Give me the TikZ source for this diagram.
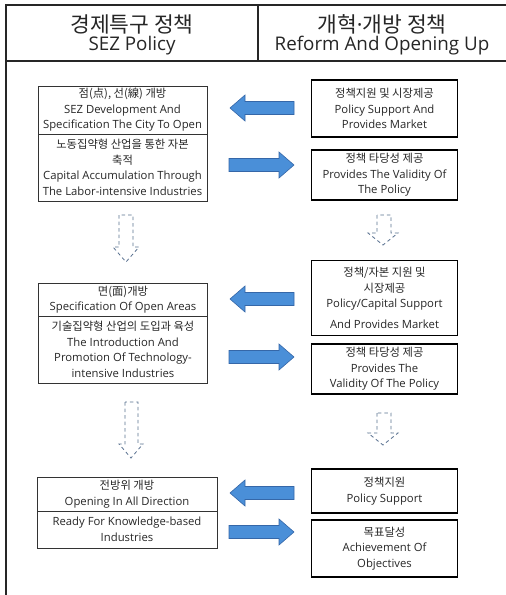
\documentclass[tikz,border=0pt]{standalone}
\usepackage{fontspec}
\setmainfont{Open Sans}
\newfontfamily\krfont{Noto Sans CJK KR}
\newcommand{\ko}[1]{{\krfont\fontsize{11.3}{15.5}\selectfont #1}}
\newcommand{\kohdr}[1]{{\krfont\fontsize{21.5}{18}\selectfont #1}}
\definecolor{arrowblue}{HTML}{4A8FD8}
\definecolor{arrowedge}{HTML}{3567A8}
\definecolor{dashblue}{HTML}{58708F}
\begin{document}
\begin{tikzpicture}[x=1pt,y=-1pt,
  frameline/.style={line width=1.2pt,draw=black!85},
  hdr/.style={align=center,font=\fontsize{18.8}{18.5}\selectfont,text=black!85},
  lbox/.style={draw=black!80,line width=0.8pt,align=center,inner sep=1pt,
     minimum width=169pt,font=\fontsize{11.3}{15.5}\selectfont,text=black!85},
  rbox/.style={draw=black,line width=1.4pt,align=center,inner sep=1pt,
     minimum width=146pt,font=\fontsize{11.3}{15.5}\selectfont,text=black!85},
  barrow/.style={fill=arrowblue,draw=arrowedge,line width=0.6pt,line join=miter},
  darrow/.style={draw=dashblue,line width=0.8pt,dash pattern=on 3.5pt off 3pt}]
\useasboundingbox (0,0) rectangle (506,595);
% frame
\draw[frameline] (6,595) -- (6,5) -- (506,5);
\draw[frameline] (6,61) -- (506,61);
\draw[frameline] (258,5) -- (258,61);
\node[hdr] (H1) at (132,35) {\kohdr{경제특구 정책}\\SEZ Policy};
\node[hdr] (H2) at (382,35) {\kohdr{개혁}{\fontsize{21.5}{18}\selectfont·}\kohdr{개방 정책}\\Reform And Opening Up};
% left column
\node[lbox,minimum height=48pt] (L1a) at (122.5,110) {\ko{점(点), 선(線) 개방}\\SEZ Development And\\Specification The City To Open};
\node[lbox,minimum height=67pt] (L1b) at (122.5,167.5) {\ko{노동집약형 산업을 통한 자본}\\\ko{축적}\\Capital Accumulation Through\\The Labor-intensive Industries};
\node[lbox,minimum height=33pt] (L2a) at (123,299.5) {\ko{면(面)개방}\\Specification Of Open Areas};
\node[lbox,minimum height=67pt] (L2b) at (123,349.5) {\ko{기술집약형 산업의 도입과 육성}\\The Introduction And\\Promotion Of Technology-\\intensive Industries};
\node[lbox,minimum height=34pt,minimum width=180pt] (L3a) at (127,494) {\ko{전방위 개방}\\Opening In All Direction};
\node[lbox,minimum height=37pt,minimum width=180pt] (L3b) at (127,529.5) {Ready For Knowledge-based\\Industries};
% right column
\node[rbox,minimum height=57pt] (R1) at (384.5,108.5) {\ko{정책지원 및 시장제공}\\Policy Support And\\Provides Market};
\node[rbox,minimum height=50pt] (R2) at (384.5,175) {\ko{정책 타당성 제공}\\Provides The Validity Of\\The Policy};
\node[rbox,minimum height=75pt] (R3) at (384.5,298) {\ko{정책/자본 지원 및}\\\ko{시장제공}\\Policy/Capital Support\\[5pt]And Provides Market};
\node[rbox,minimum height=50pt] (R4) at (384.5,369) {\ko{정책 타당성 제공}\\Provides The\\Validity Of The Policy};
\node[rbox,minimum height=44pt] (R5) at (384.5,491) {\ko{정책지원}\\Policy Support};
\node[rbox,minimum height=57pt] (R6) at (384.5,548.5) {\ko{목표달성}\\Achievement Of\\Objectives};
% blue block arrows (left-pointing and right-pointing)
\foreach \y in {108,299,493}{
  \draw[barrow] (230,\y) -- (245,\y-13) -- (245,\y-6.5) -- (294,\y-6.5) -- (294,\y+6.5) -- (245,\y+6.5) -- (245,\y+13) -- cycle;}
\foreach \y in {165,357,532}{
  \draw[barrow] (294,\y) -- (279,\y-13) -- (279,\y-6.5) -- (229,\y-6.5) -- (229,\y+6.5) -- (279,\y+6.5) -- (279,\y+13) -- cycle;}
% dashed hollow down arrows
\draw[darrow] (119,215) -- (119,247) -- (113,247) -- (126,262) -- (139,247) -- (133,247) -- (133,215) -- cycle;
\draw[darrow] (125,402) -- (125,444) -- (119,444) -- (131,458) -- (143,444) -- (138,444) -- (138,402) -- cycle;
\draw[darrow] (377,215) -- (377,233) -- (368,233) -- (383,245) -- (398,233) -- (391,233) -- (391,215) -- cycle;
\draw[darrow] (377,413) -- (377,433) -- (368,433) -- (383,445) -- (398,433) -- (391,433) -- (391,413) -- cycle;
\end{tikzpicture}
\end{document}
